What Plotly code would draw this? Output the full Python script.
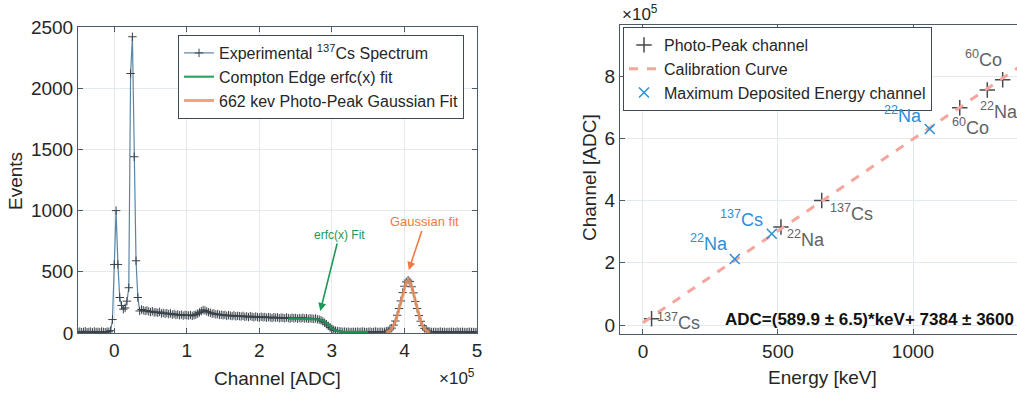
import numpy as np
import plotly.graph_objects as go

# ---------------- Left panel data: 137Cs spectrum ----------------
spec_start, spec_step = -50000, 2500
spec_events = (
    [8, 12, 6, 10, 14, 7, 9, 11, 5, 13, 8, 10, 6, 12, 9, 7, 11, 10]
    + [20, 110, 560, 1000, 560, 290, 225, 195, 205, 260, 370, 2120, 2420, 1440, 590, 290, 180]
    + [192, 186, 180, 184, 176, 172, 178, 168, 170, 165, 172, 160, 164, 158, 162, 155, 160, 150,
       156, 148, 152, 145, 150, 142, 148, 145]
    + [143, 147, 140, 146, 150, 158, 168, 178, 188, 184, 176, 170]
    + [165, 158, 160, 152, 155, 148, 150, 145, 148, 140, 146, 142, 138, 144, 136, 140]
    + [138, 135, 140, 132, 136, 130, 138, 133, 128, 135, 130, 126, 133, 128, 131, 125, 130, 127,
       122, 129, 125, 128, 121, 126]
    + [124, 120, 127, 122, 118, 125, 121, 123, 117, 122, 119, 124, 118, 121, 116, 120]
    + [118, 115, 119, 112, 110, 104, 95, 84, 72, 58, 45, 34]
    + [26, 20, 16, 14, 12, 10, 11, 9, 10, 8, 9, 10]
    + [9, 11, 8, 10, 12, 9, 7, 10, 11, 8, 9, 12, 10, 8, 11, 9, 10]
    + [14, 18, 26, 40, 64, 98, 145, 200, 262, 330, 382, 418, 432, 420, 378, 328, 258, 200, 142,
       96, 60, 38, 24, 16, 12]
    + [9, 8, 10, 7, 9, 11, 8, 10, 7, 9, 8, 10, 9, 7, 11, 8, 9, 10, 8, 7, 9, 10, 8, 9, 7, 8]
)
spec_channel = [spec_start + spec_step * i for i in range(len(spec_events))]

erfc_channel = [240000, 245000, 250000, 255000, 260000, 265000, 270000, 275000, 280000, 285000,
                290000, 295000, 300000, 305000, 310000, 315000, 320000, 325000, 330000, 335000,
                340000, 345000, 350000]
erfc_events = [118, 118, 117, 117, 116, 116, 115, 114, 112, 106, 92, 66, 38, 20, 13, 10, 9, 9, 9, 9,
               9, 9, 9]

gauss_channel = [375000, 377500, 380000, 382500, 385000, 387500, 390000, 392500, 395000, 397500,
                 400000, 402500, 405000, 407500, 410000, 412500, 415000, 417500, 420000, 422500,
                 425000, 427500, 430000, 432500, 435000]
gauss_events = [5, 12, 20, 34, 58, 93, 140, 197, 261, 325, 380, 416, 430, 416, 380, 325, 261, 197,
                140, 93, 58, 34, 20, 12, 5]

left_xticks = [0, 100000, 200000, 300000, 400000, 500000]
left_xticklabels = ["0", "1", "2", "3", "4", "5"]
left_yticks = [0, 500, 1000, 1500, 2000, 2500]

# ---------------- Right panel data: calibration ----------------
peak_energy = [32, 511, 662, 1173, 1275, 1332]
peak_channel = [20000, 315000, 400000, 698000, 755000, 788000]
peak_labels = ["<sup>137</sup>Cs", "<sup>22</sup>Na", "<sup>137</sup>Cs", "<sup>60</sup>Co",
               "<sup>22</sup>Na", "<sup>60</sup>Co"]
peak_label_energy = [44, 526, 685, 1137, 1241, 1185]
peak_label_channel = [10000, 277000, 360000, 637000, 688000, 855000]

maxdep_energy = [340, 477, 1062]
maxdep_channel = [212000, 293000, 630000]
maxdep_labels = ["<sup>22</sup>Na", "<sup>137</sup>Cs", "<sup>22</sup>Na"]
maxdep_label_energy = [167, 278, 885]
maxdep_label_channel = [264000, 341000, 675000]

calib_energy = [0, 1400]
calib_channel = [7384, 833244]

right_xticks = [0, 500, 1000]
right_yticks = [0, 200000, 400000, 600000, 800000]
right_yticklabels = ["0", "2", "4", "6", "8"]

FONT = "Liberation Sans, Arial, Helvetica, sans-serif"
TXT = "#262626"
GRID = "#e2eaf0"
FRAME = "#4a5a66"
GRAY_LAB = "#5f6366"
BLUE = "#2b8fd6"

fig = go.Figure()

# Left traces
fig.add_trace(go.Scatter(
    x=spec_channel, y=spec_events, mode="lines+markers",
    name="Experimental <sup>137</sup>Cs Spectrum",
    line=dict(color="#5a86a4", width=1.2),
    marker=dict(symbol="cross-thin", size=6, line=dict(width=1, color="#3a4249")),
    xaxis="x", yaxis="y", legend="legend", legendrank=1))
fig.add_trace(go.Scatter(
    x=erfc_channel, y=erfc_events, mode="lines", name="Compton Edge erfc(x) fit",
    line=dict(color="#1c9a55", width=2.2), opacity=0.9,
    xaxis="x", yaxis="y", legend="legend", legendrank=2))
fig.add_trace(go.Scatter(
    x=gauss_channel, y=gauss_events, mode="lines", name="662 kev Photo-Peak Gaussian Fit",
    line=dict(color="#f2935f", width=3), opacity=0.85,
    xaxis="x", yaxis="y", legend="legend", legendrank=3))

# Right traces
fig.add_trace(go.Scatter(
    x=peak_energy, y=peak_channel, mode="markers", name="Photo-Peak channel",
    marker=dict(symbol="cross-thin", size=11, line=dict(width=1.5, color="#454a4e")),
    xaxis="x2", yaxis="y2", legend="legend2", legendrank=1))
fig.add_trace(go.Scatter(
    x=calib_energy, y=calib_channel, mode="lines", name="Calibration Curve",
    line=dict(color="#f6a59c", width=3, dash="dash"),
    xaxis="x2", yaxis="y2", legend="legend2", legendrank=2))
fig.add_trace(go.Scatter(
    x=maxdep_energy, y=maxdep_channel, mode="markers", name="Maximum Deposited Energy channel",
    marker=dict(symbol="x-thin", size=10, line=dict(width=1.5, color=BLUE)),
    xaxis="x2", yaxis="y2", legend="legend2", legendrank=3))

ax_common = dict(showgrid=True, gridcolor=GRID, gridwidth=1, zeroline=False, showline=True,
                 linecolor=FRAME, linewidth=1, ticks="inside", ticklen=5, tickcolor=FRAME,
                 automargin=False,
                 tickfont=dict(family=FONT, size=19, color=TXT))

fig.update_layout(
    width=1017, height=398, margin=dict(l=0, r=0, t=0, b=0, autoexpand=False),
    paper_bgcolor="white", plot_bgcolor="white",
    font=dict(family=FONT, color=TXT),
    xaxis=dict(domain=[0.0767, 0.469], range=[-50000, 500000], tickvals=left_xticks,
               ticktext=left_xticklabels, mirror="ticks", anchor="y", **ax_common),
    yaxis=dict(domain=[0.1633, 0.9322], range=[0, 2500], tickvals=left_yticks,
               mirror="ticks", anchor="x", **ax_common),
    xaxis2=dict(domain=[0.6096, 1.0], range=[-85, 1385], tickvals=right_xticks,
                mirror="ticks", anchor="y2", **ax_common),
    yaxis2=dict(domain=[0.1608, 0.9372], range=[-28900, 963900], tickvals=right_yticks,
                ticktext=right_yticklabels, mirror=False, anchor="x2", **ax_common),
    legend=dict(x=178 / 1017, y=1 - 35 / 398, xanchor="left", yanchor="top",
                bgcolor="white", bordercolor="#3d4a55", borderwidth=1,
                font=dict(family=FONT, size=16, color=TXT), itemwidth=30, tracegroupgap=0),
    legend2=dict(x=623 / 1017, y=1 - 27 / 398, xanchor="left", yanchor="top",
                 bgcolor="white", bordercolor="#3d4a55", borderwidth=1,
                 font=dict(family=FONT, size=16, color=TXT), itemwidth=30, tracegroupgap=0),
)

ann = []
# axis titles
ann.append(dict(text="Events", x=15, y=181, textangle=-90))
ann.append(dict(text="Channel [ADC]", x=277, y=378))
ann.append(dict(text="Channel [ADC]", x=589, y=178, textangle=-90))
ann.append(dict(text="Energy [keV]", x=822, y=377))
for a in ann:
    a.update(xref="paper", yref="paper", showarrow=False, xanchor="center", yanchor="middle",
             font=dict(family=FONT, size=19, color=TXT))
    a["x"] = a["x"] / 1017
    a["y"] = 1 - a["y"] / 398
# x10^5 labels
ann.append(dict(text="×10<sup>5</sup>", x=477 / 1017, y=1 - 390 / 398, xref="paper", yref="paper",
                xanchor="right", yanchor="bottom", showarrow=False,
                font=dict(family=FONT, size=17, color=TXT)))
ann.append(dict(text="×10<sup>5</sup>", x=620 / 1017, y=1 - 26 / 398, xref="paper", yref="paper",
                xanchor="left", yanchor="bottom", showarrow=False,
                font=dict(family=FONT, size=17, color=TXT)))
# left arrows
ann.append(dict(text="erfc(x) Fit", x=284000, y=180, xref="x", yref="y", ax=19, ay=-76,
                showarrow=True, arrowhead=2, arrowsize=1, arrowwidth=1.6, arrowcolor="#1c9a55",
                font=dict(family=FONT, size=12, color="#1c9a55")))
ann.append(dict(text="Gaussian fit", x=406000, y=515, xref="x", yref="y", ax=16, ay=-48,
                showarrow=True, arrowhead=2, arrowsize=1, arrowwidth=1.6, arrowcolor="#f07a45",
                font=dict(family=FONT, size=13, color="#f07a45")))
# right labels
for t, e, c in zip(peak_labels, peak_label_energy, peak_label_channel):
    ann.append(dict(text=t, x=e, y=c, xref="x2", yref="y2", xanchor="left", yanchor="middle",
                    showarrow=False, font=dict(family=FONT, size=18, color=GRAY_LAB)))
for t, e, c in zip(maxdep_labels, maxdep_label_energy, maxdep_label_channel):
    ann.append(dict(text=t, x=e, y=c, xref="x2", yref="y2", xanchor="left", yanchor="middle",
                    showarrow=False, font=dict(family=FONT, size=18, color=BLUE)))
ann.append(dict(text="<b>ADC=(589.9 ± 6.5)*keV+ 7384 ± 3600</b>", x=296, y=19000,
                xref="x2", yref="y2", xanchor="left", yanchor="middle", showarrow=False,
                font=dict(family=FONT, size=17, color="#111111")))

fig.update_layout(annotations=ann)
fig.write_html("out.html")
